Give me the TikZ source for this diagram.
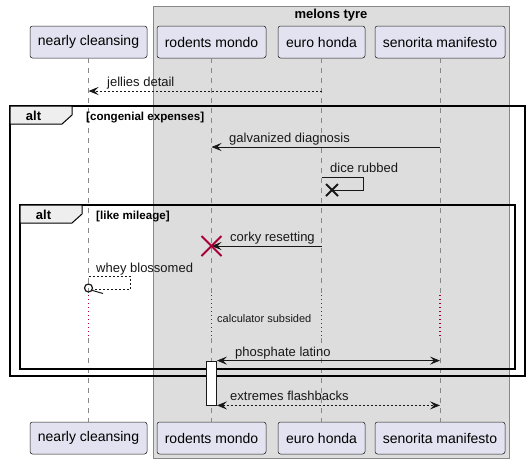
\documentclass[tikz,border=0pt]{standalone}
\usepackage{fontspec}
\setmainfont{Liberation Sans}
\usetikzlibrary{arrows.meta,calc}
\definecolor{partfill}{HTML}{E2E2F0}
\definecolor{lineclr}{HTML}{181818}
\definecolor{grpfill}{HTML}{DDDDDD}
\definecolor{grpline}{HTML}{888888}
\definecolor{tabfill}{HTML}{EEEEEE}
\definecolor{delayred}{HTML}{A80036}
\tikzset{
  part/.style={draw=lineclr, fill=partfill, rounded corners=2.5pt, line width=0.5pt,
    minimum height=32pt, inner sep=0pt, font=\fontsize{14}{16}\selectfont},
  msgtxt/.style={font=\fontsize{13}{15}\selectfont, inner sep=0pt, anchor=base west, text=lineclr},
  smalltxt/.style={font=\fontsize{11}{13}\selectfont, inner sep=0pt, anchor=base west, text=lineclr},
  condtxt/.style={font=\bfseries\fontsize{11.6}{13}\selectfont, inner sep=0pt, anchor=base west},
  alttxt/.style={font=\bfseries\fontsize{13}{15}\selectfont, inner sep=0pt, anchor=base},
  life/.style={draw=grpline, dash pattern=on 5pt off 5pt, line width=0.6pt},
  delayline/.style={draw=delayred, dash pattern=on 1pt off 3pt, line width=1.1pt},
  msg/.style={draw=lineclr, line width=0.8pt, -{Stealth[length=10pt,width=8pt,inset=4pt]}},
  msgboth/.style={draw=lineclr, line width=0.8pt, {Stealth[length=10pt,width=8pt,inset=4pt]}-{Stealth[length=10pt,width=8pt,inset=4pt]}},
  retdash/.style={dash pattern=on 2pt off 2pt},
  frameline/.style={draw=black, line width=1.5pt},
  tabshape/.style={draw=black, line width=1pt, fill=tabfill},
  actbox/.style={draw=lineclr, fill=white, line width=0.8pt, minimum width=10pt, minimum height=44pt, inner sep=0pt},
}
\begin{document}
\begin{tikzpicture}[x=1pt,y=-1pt]
\useasboundingbox[fill=white] (0,0) rectangle (530,464);
% group box
\draw[fill=grpfill, draw=grpline, line width=0.6pt] (153,6) rectangle (509,458);
\node[font=\bfseries\fontsize{13}{15}\selectfont, inner sep=0pt, anchor=base] (gtitle) at (331,18) {melons tyre};
% participants
\node[part, minimum width=117pt] (pn) at (88.5,42) {nearly cleansing};
\node[part, minimum width=109pt] (pr) at (211.5,42) {rodents mondo};
\node[part, minimum width=87pt] (pe) at (321.5,42) {euro honda};
\node[part, minimum width=130pt] (ps) at (440,42) {senorita manifesto};
\node[part, minimum width=117pt] (pnb) at (88.5,438) {nearly cleansing};
\node[part, minimum width=109pt] (prb) at (211.5,438) {rodents mondo};
\node[part, minimum width=87pt] (peb) at (321.5,438) {euro honda};
\node[part, minimum width=130pt] (psb) at (440,438) {senorita manifesto};
% delay coordinates
\coordinate (d1) at (0,295);
\coordinate (d2) at (0,338);
% lifelines
\foreach \p/\q in {pn/pnb,pr/prb,pe/peb,ps/psb}{
  \draw[life] (\p.south) -- (\p.south |- d1);
  \draw[delayline] (\p.south |- d1) -- (\p.south |- d2);
  \draw[life] (\p.south |- d2) -- (\q.north);
}
% message y coordinates
\coordinate (y1) at (0,91);
\coordinate (y2) at (0,147);
\coordinate (y3) at (0,177);
\coordinate (y3b) at (0,190);
\coordinate (y4) at (0,246);
\coordinate (y5) at (0,276);
\coordinate (y5b) at (0,289);
% frames
\draw[frameline] (10,106) rectangle (525,376);
\draw[tabshape] (10,106) -- (72,106) -- (72,115) -- (62,124) -- (10,124) -- cycle;
\node[alttxt] (alt1) at (33.5,120) {alt};
\node[condtxt] (c1) at (86,120) {[congenial expenses]};
\draw[frameline] (20,205) rectangle (515,369);
\draw[tabshape] (20,205) -- (82,205) -- (82,214) -- (72,223) -- (20,223) -- cycle;
\node[alttxt] (alt2) at (43.5,219) {alt};
\node[condtxt] (c2) at (96,219) {[like mileage]};
% jellies detail
\draw[msg, retdash] (pe |- y1) -- (pn |- y1);
\node[msgtxt] (t1) at (107,86) {jellies detail};
% galvanized diagnosis
\draw[msg] (ps |- y2) -- (pr |- y2);
\node[msgtxt] (t2) at (229,142) {galvanized diagnosis};
% dice rubbed (self, destroyed)
\coordinate (x3) at (363,0);
\coordinate (xd) at (332,190);
\draw[draw=lineclr, line width=0.8pt] (pe |- y3) -- (x3 |- y3) -- (x3 |- y3b) -- (xd);
\draw[draw=lineclr, line width=2pt] ($(xd)+(-6,-6)$) -- ($(xd)+(6,6)$);
\draw[draw=lineclr, line width=2pt] ($(xd)+(-6,6)$) -- ($(xd)+(6,-6)$);
\node[msgtxt] (t3) at (330,172) {dice rubbed};
% corky resetting
\draw[msg] (pe |- y4) -- (pr |- y4);
\node[msgtxt] (t4) at (230,241) {corky resetting};
% whey blossomed
\coordinate (x5) at (130,0);
\coordinate (wc) at (88.5,288);
\draw[draw=lineclr, line width=0.8pt, retdash] (pn |- y5) -- (x5 |- y5) -- (x5 |- y5b) -- (92.5,289);
\draw[draw=lineclr, line width=1pt] (91.5,290.2) -- (103,293.5);
\draw[draw=lineclr, line width=1.2pt] (wc) circle (4pt);
\node[msgtxt] (t5) at (96,272) {whey blossomed};
% calculator subsided
\node[smalltxt] (t6) at (217,322) {calculator subsided};
% activation
\node[actbox] (act) at (211.5,383) {};
% phosphate latino
\draw[msgboth] (act.north east) -- (ps |- act.north);
\node[msgtxt] (t7) at (235,356) {phosphate latino};
% extremes flashbacks
\draw[msgboth, retdash] (act.south east) -- (ps |- act.south);
\node[msgtxt] (t8) at (230,400) {extremes flashbacks};
% red destroy X at corky
\coordinate (rx) at (pr |- y4);
\draw[draw=delayred, line width=2pt] ($(rx)+(-10,-10)$) -- ($(rx)+(10,10)$);
\draw[draw=delayred, line width=2pt] ($(rx)+(-10,10)$) -- ($(rx)+(10,-10)$);
\end{tikzpicture}
\end{document}
